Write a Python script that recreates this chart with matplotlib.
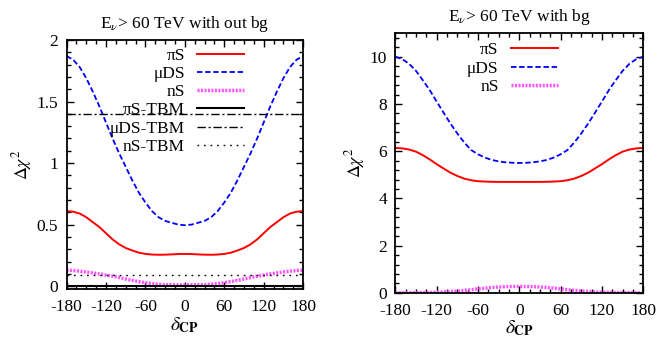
import matplotlib

matplotlib.use("Agg")
import matplotlib.pyplot as plt
from matplotlib.ticker import MultipleLocator

plt.rcParams["font.family"] = ["Liberation Serif", "DejaVu Serif"]
plt.rcParams["mathtext.fontset"] = "stix"
plt.rcParams["axes.unicode_minus"] = False
plt.rcParams["font.size"] = 12.5

# delta_CP grid (degrees)
delta_cp = list(range(-180, 181, 10))

# left panel: E_nu > 60 TeV without background
piS_nobg = [0.61, 0.605, 0.59, 0.56, 0.52, 0.48, 0.43, 0.38, 0.34, 0.31, 0.29, 0.272, 0.262,
            0.257, 0.255, 0.256, 0.258, 0.261, 0.262, 0.261, 0.258, 0.256, 0.255, 0.257,
            0.262, 0.272, 0.29, 0.31, 0.34, 0.38, 0.43, 0.48, 0.52, 0.56, 0.59, 0.605, 0.61]
muDS_nobg = [1.87, 1.84, 1.78, 1.69, 1.58, 1.46, 1.33, 1.20, 1.08, 0.97, 0.86, 0.76, 0.68,
             0.61, 0.56, 0.53, 0.515, 0.50, 0.495, 0.50, 0.515, 0.53, 0.56, 0.61,
             0.68, 0.76, 0.86, 0.97, 1.08, 1.20, 1.33, 1.46, 1.58, 1.69, 1.78, 1.84, 1.87]
nS_nobg = [0.13, 0.127, 0.122, 0.115, 0.107, 0.099, 0.09, 0.081, 0.07, 0.058, 0.047, 0.037,
           0.028, 0.021, 0.016, 0.013, 0.012, 0.011, 0.01, 0.011, 0.012, 0.013, 0.016, 0.021,
           0.028, 0.037, 0.047, 0.058, 0.07, 0.081, 0.09, 0.099, 0.107, 0.115, 0.122, 0.127, 0.13]
tbm_piS = 0.0
tbm_muDS = 1.4
tbm_nS = 0.09

# right panel: E_nu > 60 TeV with background
piS_bg = [6.14, 6.12, 6.07, 5.98, 5.83, 5.65, 5.45, 5.27, 5.09, 4.95, 4.84, 4.77, 4.73,
          4.715, 4.705, 4.70, 4.70, 4.70, 4.70, 4.70, 4.70, 4.70, 4.705, 4.715,
          4.73, 4.77, 4.84, 4.95, 5.09, 5.27, 5.45, 5.65, 5.83, 5.98, 6.07, 6.12, 6.14]
muDS_bg = [10.0, 9.9, 9.7, 9.4, 9.0, 8.58, 8.1, 7.63, 7.17, 6.75, 6.37, 6.05, 5.87,
           5.73, 5.63, 5.57, 5.53, 5.51, 5.5, 5.51, 5.53, 5.57, 5.63, 5.73,
           5.87, 6.05, 6.37, 6.75, 7.17, 7.63, 8.1, 8.58, 9.0, 9.4, 9.7, 9.9, 10.0]
nS_bg = [0.0, 0.003, 0.007, 0.01, 0.013, 0.018, 0.03, 0.04, 0.06, 0.08, 0.105, 0.135, 0.17,
         0.20, 0.23, 0.25, 0.265, 0.27, 0.27, 0.27, 0.265, 0.25, 0.23, 0.20,
         0.17, 0.135, 0.105, 0.08, 0.06, 0.04, 0.03, 0.018, 0.013, 0.01, 0.007, 0.003, 0.0]

RED = "#ff0000"
BLUE = "#0000ff"
PINK = "#ff55ff"


def style_axes(ax, ymin, ymax, ymajor, yminor):
    ax.set_xlim(-180, 180)
    ax.set_ylim(ymin, ymax)
    ax.xaxis.set_major_locator(MultipleLocator(60))
    ax.xaxis.set_minor_locator(MultipleLocator(15))
    ax.yaxis.set_major_locator(MultipleLocator(ymajor))
    ax.yaxis.set_minor_locator(MultipleLocator(yminor))
    ax.tick_params(which="both", direction="in", top=True, right=True, width=1)
    ax.tick_params(which="major", length=5)
    ax.tick_params(axis="x", which="major", pad=7)
    ax.tick_params(axis="y", which="major", pad=6)
    ax.tick_params(which="minor", length=3)
    for sp in ax.spines.values():
        sp.set_linewidth(1.3)
    ax.set_xlabel(r"$\delta_{\mathbf{CP}}$", fontsize=14, labelpad=0)
    ax.set_ylabel(r"$\Delta\chi^2$", fontsize=13, labelpad=2)


fig = plt.figure(figsize=(6.59, 3.45), dpi=100)
ax1 = fig.add_axes([0.101, 0.162, 0.359, 0.722])
ax2 = fig.add_axes([0.600, 0.151, 0.376, 0.753])

ax1.plot(delta_cp, piS_nobg, color=RED, lw=1.4, label="πS")
ax1.plot(delta_cp, muDS_nobg, color=BLUE, lw=1.3, dashes=(3, 1.5), label="μDS")
ax1.plot(delta_cp, nS_nobg, color=PINK, lw=2.5, dashes=(0.6, 0.4), label="nS")
ax1.axhline(tbm_piS, color="black", lw=1.5, label="πS-TBM")
ax1.axhline(tbm_muDS, color="black", lw=1.0, dashes=(6, 2, 1.5, 2), label="μDS-TBM")
ax1.axhline(tbm_nS, color="black", lw=1.0, dashes=(1.2, 3.5), label="nS-TBM")
style_axes(ax1, -0.024, 2.0, 0.5, 0.1)
ax1.set_yticks([0, 0.5, 1, 1.5, 2])
ax1.set_yticklabels(["0", "0.5", "1", "1.5", "2"])
ax1.set_title(r"E$_\nu$> 60 TeV with out bg", fontsize=12.5, pad=9)
ax1.legend(loc="upper right", bbox_to_anchor=(0.75, 0.97), frameon=False, markerfirst=False,
           handlelength=2.7, handletextpad=0.7, labelspacing=0.12, borderpad=0, borderaxespad=0,
           fontsize=12.5)

ax2.plot(delta_cp, piS_bg, color=RED, lw=1.4, label="πS")
ax2.plot(delta_cp, muDS_bg, color=BLUE, lw=1.3, dashes=(3, 1.5), label="μDS")
ax2.plot(delta_cp, nS_bg, color=PINK, lw=2.5, dashes=(0.6, 0.4), label="nS")
style_axes(ax2, 0, 11, 2, 0.4)
ax2.set_title(r"E$_\nu$> 60 TeV with bg", fontsize=12.5, pad=9)
ax2.legend(loc="upper right", bbox_to_anchor=(0.655, 0.965), frameon=False, markerfirst=False,
           handlelength=2.7, handletextpad=0.7, labelspacing=0.12, borderpad=0, borderaxespad=0,
           fontsize=12.5)

fig.savefig("out.png", dpi=100)
